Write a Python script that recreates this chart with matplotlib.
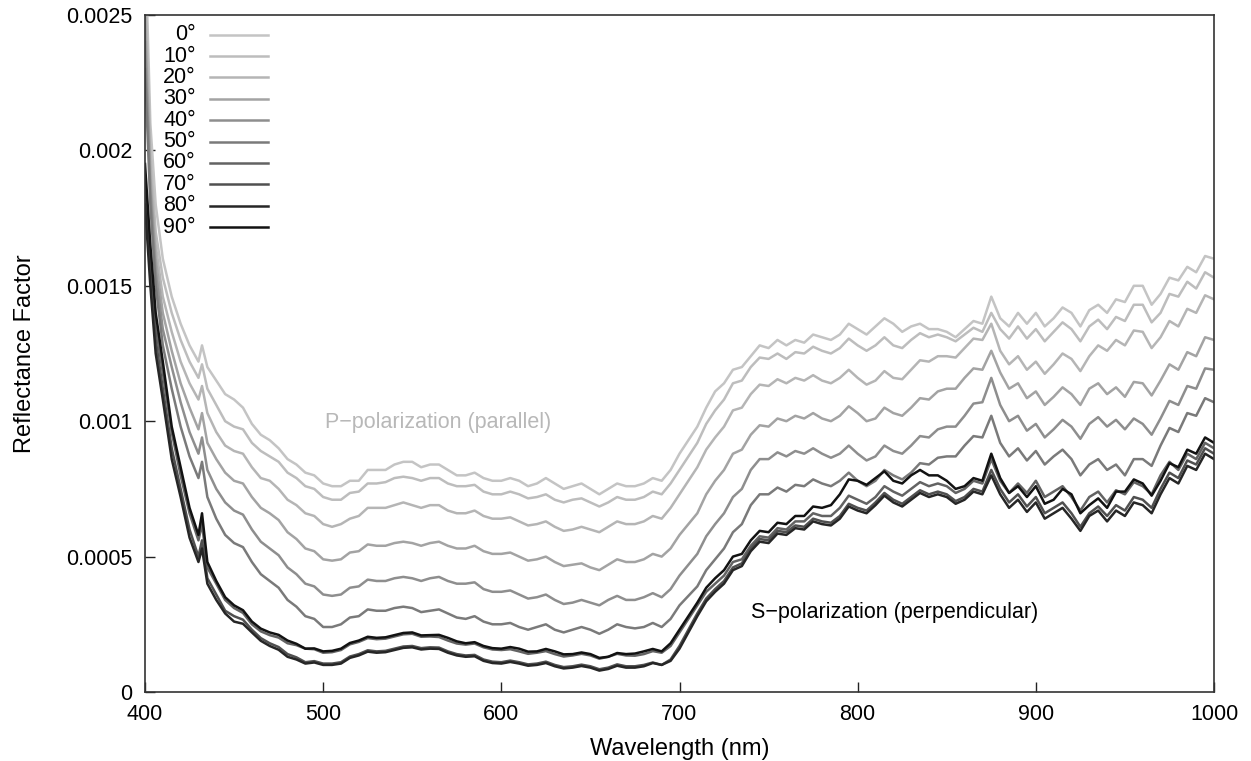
import matplotlib
matplotlib.use("Agg")
import matplotlib.pyplot as plt
import numpy as np

# -------------------------------
# Data (reflectance in units of 1e-4)
# -------------------------------
wavelength = [400, 403, 406, 410, 415, 420, 425, 430, 432, 435, 440, 445, 450] + list(range(455, 1001, 5))

r_0 = [28, 21, 18, 16.0, 14.6, 13.6, 12.8, 12.2, 12.8, 12.0, 11.5, 11.0, 10.8,
       10.5, 9.9, 9.5, 9.3, 9.0, 8.6, 8.4, 8.1, 8.0, 7.7,
       7.6, 7.6, 7.8, 7.8, 8.2, 8.2, 8.2, 8.4, 8.5, 8.5,
       8.3, 8.4, 8.4, 8.2, 8.0, 8.0, 8.1, 7.9, 7.8, 7.8,
       7.9, 7.8, 7.6, 7.7, 7.9, 7.7, 7.5, 7.6, 7.7, 7.5,
       7.3, 7.5, 7.7, 7.6, 7.6, 7.7, 7.9, 7.8, 8.2, 8.8,
       9.3, 9.8, 10.5, 11.1, 11.4, 11.9, 12.0, 12.4, 12.8, 12.7,
       13.0, 12.8, 13.0, 12.9, 13.2, 13.1, 13.0, 13.2, 13.6, 13.4,
       13.2, 13.5, 13.8, 13.6, 13.3, 13.5, 13.6, 13.4, 13.4, 13.3,
       13.1, 13.4, 13.7, 13.6, 14.6, 13.8, 13.5, 14.0, 13.6, 14.0,
       13.5, 13.8, 14.2, 14.0, 13.5, 14.1, 14.3, 14.0, 14.5, 14.4,
       15.0, 15.0, 14.3, 14.7, 15.3, 15.2, 15.7, 15.5, 16.1, 16.0]
r_10 = [27, 20, 17, 15.3, 14.0, 13.0, 12.2, 11.6, 12.1, 11.2, 10.6, 10.0, 9.8,
        9.7, 9.2, 8.9, 8.7, 8.5, 8.1, 7.9, 7.6, 7.5, 7.2,
        7.1, 7.1, 7.35, 7.4, 7.7, 7.7, 7.75, 7.9, 7.95, 7.9,
        7.8, 7.9, 7.9, 7.7, 7.6, 7.6, 7.65, 7.4, 7.3, 7.3,
        7.4, 7.3, 7.15, 7.2, 7.3, 7.1, 7.0, 7.1, 7.15, 7.0,
        6.85, 7.0, 7.2, 7.1, 7.1, 7.2, 7.4, 7.3, 7.7, 8.2,
        8.7, 9.2, 9.9, 10.4, 10.8, 11.4, 11.5, 12.0, 12.35, 12.3,
        12.5, 12.3, 12.55, 12.5, 12.75, 12.6, 12.5, 12.7, 13.05, 12.8,
        12.6, 12.8, 13.1, 12.8, 12.7, 13.0, 13.25, 13.1, 13.2, 13.1,
        12.95, 13.2, 13.45, 13.3, 14.0, 13.4, 13.05, 13.5, 13.05, 13.4,
        12.95, 13.3, 13.65, 13.4, 12.95, 13.5, 13.75, 13.4, 13.85, 13.7,
        14.3, 14.3, 13.65, 14.0, 14.7, 14.6, 15.15, 14.9, 15.5, 15.3]
r_20 = [26, 19.5, 16.5, 14.6, 13.3, 12.2, 11.4, 10.8, 11.3, 10.3, 9.6, 9.1, 8.9,
        8.8, 8.3, 7.9, 7.8, 7.5, 7.1, 6.9, 6.6, 6.5, 6.2,
        6.1, 6.2, 6.4, 6.5, 6.8, 6.8, 6.8, 6.9, 7.0, 6.9,
        6.8, 6.9, 6.9, 6.7, 6.6, 6.6, 6.7, 6.5, 6.4, 6.4,
        6.45, 6.3, 6.15, 6.2, 6.3, 6.1, 5.95, 6.0, 6.1, 6.0,
        5.9, 6.1, 6.3, 6.2, 6.2, 6.3, 6.5, 6.4, 6.8, 7.3,
        7.8, 8.3, 8.95, 9.4, 9.8, 10.4, 10.5, 11.0, 11.35, 11.3,
        11.55, 11.4, 11.6, 11.5, 11.7, 11.5, 11.4, 11.6, 11.9, 11.6,
        11.35, 11.5, 11.85, 11.6, 11.55, 11.9, 12.25, 12.2, 12.4, 12.4,
        12.35, 12.7, 13.05, 13.0, 13.6, 12.6, 12.1, 12.4, 11.9, 12.2,
        11.75, 12.1, 12.5, 12.3, 11.85, 12.4, 12.8, 12.6, 13.0, 12.8,
        13.35, 13.3, 12.7, 13.1, 13.7, 13.5, 14.15, 14.0, 14.65, 14.5]
r_30 = [25, 19, 16, 14.0, 12.6, 11.4, 10.5, 9.7, 10.3, 9.2, 8.6, 8.1, 7.8,
        7.7, 7.2, 6.8, 6.6, 6.35, 5.9, 5.65, 5.3, 5.2, 4.9,
        4.85, 4.9, 5.15, 5.2, 5.45, 5.4, 5.4, 5.5, 5.55, 5.5,
        5.4, 5.5, 5.55, 5.4, 5.3, 5.3, 5.4, 5.2, 5.1, 5.1,
        5.15, 5.0, 4.85, 4.9, 5.0, 4.8, 4.65, 4.7, 4.75, 4.6,
        4.5, 4.7, 4.9, 4.8, 4.8, 4.9, 5.1, 5.0, 5.3, 5.8,
        6.2, 6.6, 7.3, 7.8, 8.2, 8.8, 8.95, 9.5, 9.85, 9.8,
        10.1, 10.0, 10.2, 10.1, 10.3, 10.1, 10.0, 10.2, 10.55, 10.3,
        10.0, 10.1, 10.5, 10.3, 10.2, 10.5, 10.85, 10.8, 11.1, 11.2,
        11.2, 11.6, 11.95, 11.9, 12.6, 11.8, 11.2, 11.4, 10.85, 11.1,
        10.6, 10.9, 11.25, 11.0, 10.6, 11.2, 11.4, 11.0, 11.25, 10.9,
        11.45, 11.4, 10.95, 11.5, 12.1, 11.9, 12.55, 12.4, 13.1, 13.0]
r_40 = [24, 18.5, 15.5, 13.4, 12.0, 10.7, 9.6, 8.8, 9.4, 8.2, 7.5, 7.0, 6.7,
        6.55, 6.0, 5.55, 5.3, 5.05, 4.6, 4.35, 4.0, 3.9, 3.6,
        3.55, 3.6, 3.85, 3.9, 4.15, 4.1, 4.1, 4.2, 4.25, 4.2,
        4.1, 4.2, 4.25, 4.1, 4.0, 4.0, 4.05, 3.8, 3.7, 3.7,
        3.75, 3.6, 3.45, 3.5, 3.6, 3.4, 3.25, 3.3, 3.4, 3.3,
        3.2, 3.4, 3.55, 3.4, 3.4, 3.5, 3.65, 3.5, 3.8, 4.3,
        4.7, 5.1, 5.75, 6.2, 6.6, 7.2, 7.5, 8.2, 8.6, 8.6,
        8.85, 8.7, 8.9, 8.8, 9.0, 8.8, 8.65, 8.8, 9.1, 8.8,
        8.55, 8.7, 9.1, 8.9, 8.8, 9.1, 9.45, 9.4, 9.7, 9.8,
        9.8, 10.2, 10.65, 10.7, 11.6, 10.6, 10.0, 10.2, 9.65, 9.9,
        9.4, 9.7, 10.05, 9.8, 9.35, 9.9, 10.15, 9.8, 10.05, 9.7,
        10.1, 9.9, 9.5, 10.1, 10.75, 10.6, 11.3, 11.2, 11.95, 11.9]
r_50 = [23, 18, 15, 12.8, 11.2, 9.8, 8.7, 7.9, 8.5, 7.2, 6.4, 5.8, 5.5,
        5.35, 4.8, 4.35, 4.1, 3.85, 3.4, 3.15, 2.8, 2.7, 2.4,
        2.4, 2.5, 2.75, 2.8, 3.05, 3.0, 3.0, 3.1, 3.15, 3.1,
        2.95, 3.0, 3.05, 2.9, 2.75, 2.7, 2.8, 2.6, 2.5, 2.5,
        2.55, 2.4, 2.3, 2.4, 2.5, 2.3, 2.2, 2.3, 2.4, 2.3,
        2.15, 2.3, 2.5, 2.4, 2.35, 2.4, 2.55, 2.4, 2.7, 3.2,
        3.55, 3.9, 4.5, 4.9, 5.3, 5.9, 6.2, 6.9, 7.3, 7.3,
        7.55, 7.4, 7.65, 7.6, 7.85, 7.7, 7.6, 7.8, 8.1, 7.8,
        7.6, 7.8, 8.2, 8.0, 7.85, 8.1, 8.45, 8.4, 8.65, 8.7,
        8.7, 9.1, 9.45, 9.4, 10.2, 9.2, 8.7, 9.0, 8.55, 8.9,
        8.4, 8.7, 8.95, 8.6, 8.0, 8.4, 8.6, 8.2, 8.4, 8.0,
        8.6, 8.6, 8.35, 9.1, 9.75, 9.6, 10.3, 10.2, 10.85, 10.7]
r_60 = [19.0, 16.0, 13.5, 11.8, 9.6, 8.0, 6.6, 5.6, 6.2, 4.6, 4.0, 3.4, 3.1,
        2.92, 2.5, 2.24, 2.1, 2.01, 1.8, 1.73, 1.6, 1.58, 1.45,
        1.47, 1.55, 1.76, 1.85, 1.99, 1.95, 1.97, 2.05, 2.13, 2.15,
        2.04, 2.05, 2.03, 1.9, 1.79, 1.75, 1.79, 1.65, 1.57, 1.55,
        1.58, 1.5, 1.41, 1.45, 1.51, 1.4, 1.31, 1.35, 1.41, 1.35,
        1.23, 1.3, 1.41, 1.35, 1.34, 1.4, 1.51, 1.45, 1.7, 2.2,
        2.7, 3.2, 3.7, 4.0, 4.3, 4.8, 4.9, 5.4, 5.75, 5.7,
        6.05, 6.0, 6.3, 6.3, 6.6, 6.5, 6.5, 6.8, 7.25, 7.1,
        6.95, 7.2, 7.6, 7.4, 7.25, 7.5, 7.75, 7.6, 7.7, 7.6,
        7.35, 7.5, 7.8, 7.7, 8.6, 7.8, 7.35, 7.7, 7.35, 7.8,
        7.2, 7.4, 7.6, 7.2, 6.7, 7.2, 7.4, 7.0, 7.45, 7.3,
        7.75, 7.6, 7.3, 8.0, 8.5, 8.2, 8.8, 8.6, 9.2, 9.0]
r_70 = [18.5, 15.5, 13.0, 11.2, 9.0, 7.5, 6.0, 5.0, 5.6, 4.2, 3.6, 3.0, 2.8,
        2.67, 2.3, 1.99, 1.8, 1.66, 1.4, 1.28, 1.1, 1.14, 1.05,
        1.05, 1.1, 1.31, 1.4, 1.54, 1.5, 1.52, 1.6, 1.68, 1.7,
        1.62, 1.65, 1.64, 1.5, 1.4, 1.35, 1.37, 1.2, 1.12, 1.1,
        1.16, 1.1, 1.02, 1.05, 1.12, 1.0, 0.92, 0.95, 1.01, 0.95,
        0.84, 0.9, 1.02, 0.95, 0.95, 1.0, 1.09, 1.0, 1.2, 1.7,
        2.3, 2.9, 3.45, 3.8, 4.1, 4.6, 4.75, 5.3, 5.65, 5.6,
        5.95, 5.9, 6.15, 6.1, 6.4, 6.3, 6.25, 6.5, 6.95, 6.8,
        6.7, 7.0, 7.35, 7.1, 6.95, 7.2, 7.45, 7.3, 7.4, 7.3,
        7.05, 7.2, 7.5, 7.4, 8.2, 7.5, 7.0, 7.3, 6.85, 7.2,
        6.6, 6.8, 7.0, 6.6, 6.1, 6.6, 6.85, 6.5, 6.9, 6.7,
        7.2, 7.1, 6.8, 7.5, 8.1, 7.9, 8.55, 8.4, 9.0, 8.8]
r_80 = [18.0, 15.0, 12.5, 10.8, 8.6, 7.2, 5.7, 4.8, 5.3, 4.0, 3.4, 2.9, 2.6,
        2.52, 2.2, 1.89, 1.7, 1.56, 1.3, 1.2, 1.05, 1.09, 1.0,
        1.0, 1.05, 1.26, 1.35, 1.49, 1.45, 1.47, 1.55, 1.63, 1.65,
        1.57, 1.6, 1.59, 1.45, 1.35, 1.3, 1.32, 1.15, 1.07, 1.05,
        1.11, 1.05, 0.97, 1.0, 1.07, 0.95, 0.87, 0.9, 0.96, 0.9,
        0.79, 0.85, 0.97, 0.9, 0.9, 0.95, 1.07, 1.0, 1.15, 1.6,
        2.2, 2.8, 3.35, 3.7, 4.0, 4.5, 4.65, 5.2, 5.55, 5.5,
        5.85, 5.8, 6.05, 6.0, 6.3, 6.2, 6.15, 6.4, 6.85, 6.7,
        6.6, 6.9, 7.25, 7.0, 6.85, 7.1, 7.35, 7.2, 7.3, 7.2,
        6.95, 7.1, 7.4, 7.3, 8.0, 7.3, 6.8, 7.1, 6.65, 7.0,
        6.4, 6.6, 6.8, 6.4, 5.95, 6.5, 6.7, 6.3, 6.7, 6.5,
        7.0, 6.9, 6.6, 7.3, 7.9, 7.7, 8.35, 8.2, 8.8, 8.6]
r_90 = [19.5, 16.5, 14.0, 12.2, 9.8, 8.3, 6.8, 5.8, 6.6, 4.8, 4.1, 3.5, 3.2,
        3.02, 2.6, 2.34, 2.2, 2.11, 1.9, 1.78, 1.6, 1.61, 1.5,
        1.52, 1.6, 1.81, 1.9, 2.04, 2.0, 2.02, 2.1, 2.18, 2.2,
        2.09, 2.1, 2.11, 2.0, 1.87, 1.8, 1.84, 1.7, 1.62, 1.6,
        1.66, 1.6, 1.49, 1.5, 1.59, 1.5, 1.39, 1.4, 1.46, 1.4,
        1.26, 1.3, 1.44, 1.4, 1.42, 1.5, 1.59, 1.5, 1.8, 2.3,
        2.8, 3.3, 3.85, 4.2, 4.5, 5.0, 5.1, 5.6, 5.95, 5.9,
        6.25, 6.2, 6.5, 6.5, 6.85, 6.8, 6.9, 7.3, 7.85, 7.8,
        7.65, 7.9, 8.15, 7.8, 7.7, 8.0, 8.2, 8.0, 8.0, 7.8,
        7.5, 7.6, 7.9, 7.8, 8.8, 7.9, 7.35, 7.6, 7.2, 7.6,
        6.95, 7.1, 7.5, 7.3, 6.6, 6.9, 7.15, 6.8, 7.4, 7.4,
        7.85, 7.7, 7.25, 7.8, 8.45, 8.3, 8.95, 8.8, 9.4, 9.2]

angle_labels = ["0°", "10°", "20°", "30°", "40°", "50°", "60°", "70°", "80°", "90°"]
series = [r_0, r_10, r_20, r_30, r_40, r_50, r_60, r_70, r_80, r_90]
unit = 1e-4

y_ticks = [0, 0.0005, 0.001, 0.0015, 0.002, 0.0025]
y_tick_labels = ["0", "0.0005", "0.001", "0.0015", "0.002", "0.0025"]
x_ticks = [400, 500, 600, 700, 800, 900, 1000]

# grey ramp, light to dark
colors = ["#c4c4c4", "#bdbdbd", "#b5b5b5", "#a3a3a3", "#8e8e8e",
          "#7a7a7a", "#636363", "#505050", "#262626", "#121212"]

# -------------------------------
# Plot
# -------------------------------
plt.rcParams["font.family"] = ["Liberation Sans", "DejaVu Sans"]
plt.rcParams["font.size"] = 15.5

fig = plt.figure(figsize=(12.51, 7.61), dpi=100)
ax = fig.add_axes([145 / 1251, 1 - 692 / 761, 1069 / 1251, 677 / 761])

x = np.array(wavelength)
for vals, col, lab in zip(series, colors, angle_labels):
    ax.plot(x, np.array(vals) * unit, color=col, lw=1.8, label=lab)

ax.set_xlim(400, 1000)
ax.set_ylim(0, 0.0025)
ax.set_xticks(x_ticks)
ax.set_yticks(y_ticks)
ax.set_yticklabels(y_tick_labels)
ax.tick_params(direction="in", length=7, width=1, colors="#222222",
               labelcolor="black", pad=9, top=False, right=False)
for s in ax.spines.values():
    s.set_linewidth(1.2)
    s.set_color("#333333")

ax.set_xlabel("Wavelength (nm)", fontsize=17, labelpad=9)
ax.set_ylabel("Reflectance Factor", fontsize=17, labelpad=22)

# key: label on the left, sample on the right (gnuplot style)
for i, (col, lab) in enumerate(zip(colors, angle_labels)):
    yk = 0.971 - i * 0.0316
    ax.text(0.0477, yk, lab, transform=ax.transAxes, ha="right", va="center")
    ax.plot([0.0608, 0.115], [yk, yk], transform=ax.transAxes, color=col, lw=1.8)

ax.text(501, 0.000997, "P\u2212polarization (parallel)", color="#b8b8b8",
        ha="left", va="center")
ax.text(740, 0.000295, "S\u2212polarization (perpendicular)", color="black",
        ha="left", va="center")

plt.savefig("out.png", dpi=100)
